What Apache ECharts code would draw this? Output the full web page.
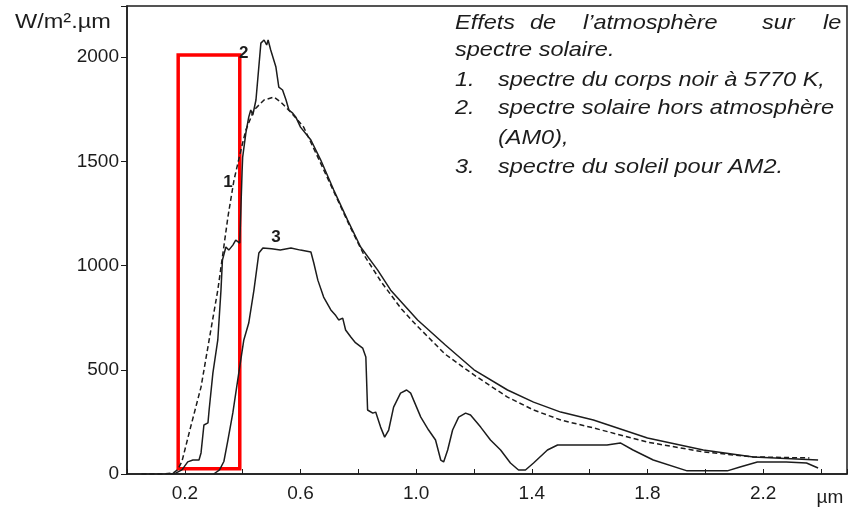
<!DOCTYPE html>
<html>
<head>
<meta charset="utf-8">
<script src="https://cdn.jsdelivr.net/npm/echarts@6/dist/echarts.min.js"></script>
<style>
  html, body { margin: 0; background: #fff; }
  #chart { width: 852px; height: 510px; }
</style>
</head>
<body>
<div id="chart"></div>
<script>
// longueurs d'onde (µm) et éclairements (W/m².µm)
const wlCorpsNoir = [0.05, 0.12, 0.16, 0.175, 0.19, 0.22, 0.256, 0.29, 0.314, 0.33, 0.349, 0.37, 0.394, 0.411, 0.439, 0.474, 0.508, 0.532, 0.566, 0.611, 0.67, 0.72, 0.77, 0.82, 0.88, 0.95, 1.0, 1.1, 1.2, 1.316, 1.406, 1.5, 1.613, 1.8, 1.993, 2.166, 2.36]
const corpsNoir = [0, 0, 5, 20, 60, 225, 417, 691, 882, 1041, 1233, 1410, 1554, 1650, 1746, 1794, 1808, 1784, 1736, 1664, 1490, 1340, 1190, 1050, 920, 790, 715, 575, 475, 369, 307, 259, 221, 153, 106, 82, 77]

const wlAM0 = [0.15, 0.17, 0.19, 0.21, 0.228, 0.249, 0.256, 0.266, 0.28, 0.284, 0.297, 0.314, 0.325, 0.33, 0.342, 0.352, 0.366, 0.376, 0.39, 0.398, 0.40, 0.411, 0.421, 0.428, 0.435, 0.446, 0.463, 0.474, 0.483, 0.488, 0.497, 0.515, 0.525, 0.538, 0.55, 0.56, 0.573, 0.584, 0.6, 0.636, 0.67, 0.715, 0.763, 0.808, 0.867, 0.912, 1.005, 1.1, 1.2, 1.316, 1.406, 1.5, 1.613, 1.8, 1.993, 2.166, 2.39]
const am0 = [0, 5, 20, 58, 67, 67, 101, 235, 245, 307, 484, 643, 882, 1026, 1089, 1074, 1098, 1122, 1108, 1450, 1520, 1635, 1712, 1746, 1722, 1794, 2067, 2082, 2058, 2082, 2034, 1952, 1856, 1842, 1794, 1746, 1731, 1712, 1664, 1602, 1506, 1362, 1218, 1089, 978, 882, 739, 620, 500, 403, 345, 297, 259, 173, 115, 82, 67]

const wlAM2 = [0.30, 0.32, 0.335, 0.349, 0.366, 0.383, 0.404, 0.421, 0.439, 0.456, 0.47, 0.5, 0.53, 0.567, 0.6, 0.636, 0.646, 0.66, 0.68, 0.705, 0.722, 0.732, 0.746, 0.756, 0.774, 0.79, 0.815, 0.826, 0.832, 0.85, 0.86, 0.877, 0.891, 0.905, 0.922, 0.946, 0.967, 0.981, 1.016, 1.043, 1.067, 1.085, 1.095, 1.109, 1.126, 1.147, 1.171, 1.188, 1.223, 1.257, 1.292, 1.326, 1.354, 1.378, 1.406, 1.454, 1.489, 1.66, 1.706, 1.75, 1.82, 1.937, 2.076, 2.12, 2.18, 2.28, 2.35, 2.39]
const am2 = [0, 20, 60, 163, 293, 451, 643, 724, 882, 1060, 1084, 1080, 1075, 1084, 1074, 1065, 1012, 930, 849, 787, 760, 739, 748, 691, 657, 630, 604, 561, 307, 292, 297, 225, 177, 211, 321, 388, 403, 388, 273, 211, 163, 67, 58, 115, 211, 273, 292, 283, 225, 163, 115, 53, 19, 19, 53, 115, 139, 139, 149, 115, 67, 15, 15, 34, 58, 58, 53, 29]

// repères des courbes : [numéro, µm, W/m².µm]
const reperes = [['1', 0.349, 1400], ['2', 0.404, 2020], ['3', 0.515, 1137]]

const legende = [
  'spectre solaire.',
  '1.',
  '2.',
  '',
  '3.'
]
const legendeTextes = [
  '',
  'spectre du corps noir à 5770 K,',
  'spectre solaire hors atmosphère',
  '(AM0),',
  'spectre du soleil pour AM2.'
]
const titreMots = ['Effets', 'de', 'l\u2019atmosphère', 'sur', 'le']

const couleur = '#1c1c1c'
const police = 'Liberation Sans'

function paires(xs, ys) {
  return xs.map((x, i) => [x, ys[i]])
}

function repere(i) {
  return {
    symbol: 'circle',
    symbolSize: 1,
    itemStyle: { color: 'rgba(0,0,0,0)' },
    label: { show: true, position: 'inside', color: couleur, fontFamily: police, fontWeight: 'bold', fontSize: 17, formatter: reperes[i][0] },
    data: [{ coord: [reperes[i][1], reperes[i][2]] }]
  }
}

const chart = echarts.init(document.getElementById('chart'))

const texteItal = 'italic 21px "Liberation Sans"'
const graphics = []
const titreX = [455, 530, 583, 762, 823]
titreMots.forEach((m, i) => {
  graphics.push({ type: 'text', x: titreX[i], y: 23, scaleX: 1.12, style: { text: m, font: texteItal, fill: couleur, textVerticalAlign: 'middle' } })
})
const lignesY = [50, 80, 108, 138, 167]
legende.forEach((t, i) => {
  if (i === 0) {
    graphics.push({ type: 'text', x: 455, y: lignesY[i], scaleX: 1.12, style: { text: t, font: texteItal, fill: couleur, textVerticalAlign: 'middle' } })
    return
  }
  if (t) graphics.push({ type: 'text', x: 455, y: lignesY[i], scaleX: 1.12, style: { text: t, font: texteItal, fill: couleur, textVerticalAlign: 'middle' } })
  graphics.push({ type: 'text', x: 498, y: lignesY[i], scaleX: 1.12, style: { text: legendeTextes[i], font: texteItal, fill: couleur, textVerticalAlign: 'middle' } })
})
graphics.push({ type: 'text', x: 15, y: 22, scaleX: 1.12, style: { text: 'W/m².µm', font: '21px "Liberation Sans"', fill: couleur, textVerticalAlign: 'middle' } })

chart.setOption({
  animation: false,
  backgroundColor: '#fff',
  grid: {
    left: 127,
    right: 5,
    top: 6,
    bottom: 36,
    show: true,
    borderColor: couleur,
    borderWidth: 1.5
  },
  xAxis: {
    type: 'value',
    min: 0,
    max: 2.49,
    interval: 0.2,
    name: 'µm',
    nameLocation: 'end',
    nameGap: -17,
    nameTextStyle: { color: couleur, fontFamily: police, fontSize: 19, align: 'center', verticalAlign: 'top', padding: [14, 0, 0, 0] },
    splitLine: { show: false },
    axisLine: { lineStyle: { color: couleur, width: 1.5 } },
    axisTick: { inside: true, length: 5, lineStyle: { color: couleur } },
    axisLabel: {
      color: couleur,
      fontFamily: police,
      fontSize: 19,
      margin: 10,
      formatter: v => (Math.round(v * 10) % 4 === 2 ? v.toFixed(1) : '')
    }
  },
  yAxis: {
    type: 'value',
    min: 0,
    max: 2245,
    interval: 500,
    splitLine: { show: false },
    axisLine: { show: true, lineStyle: { color: couleur, width: 1.5 } },
    axisTick: { show: true, length: 6, lineStyle: { color: couleur } },
    axisLabel: {
      color: couleur,
      fontFamily: police,
      fontSize: 19,
      margin: 8,
      formatter: v => (v % 500 === 0 ? String(v) : '')
    }
  },
  series: [
    {
      name: '1',
      type: 'line',
      data: paires(wlCorpsNoir, corpsNoir),
      showSymbol: false,
      silent: true,
      lineStyle: { color: couleur, width: 1.5, type: [5, 3] },
      markPoint: repere(0)
    },
    {
      name: '2',
      type: 'line',
      data: paires(wlAM0, am0),
      showSymbol: false,
      silent: true,
      lineStyle: { color: couleur, width: 1.5 },
      markPoint: repere(1),
      markArea: {
        silent: true,
        itemStyle: { color: 'rgba(0,0,0,0)', borderColor: '#ff0000', borderWidth: 3.5 },
        label: { show: false },
        data: [[{ coord: [0.177, 25] }, { coord: [0.39, 2010] }]]
      }
    },
    {
      name: '3',
      type: 'line',
      data: paires(wlAM2, am2),
      showSymbol: false,
      silent: true,
      lineStyle: { color: couleur, width: 1.5 },
      markPoint: repere(2)
    }
  ],
  graphic: graphics
})
</script>
</body>
</html>
